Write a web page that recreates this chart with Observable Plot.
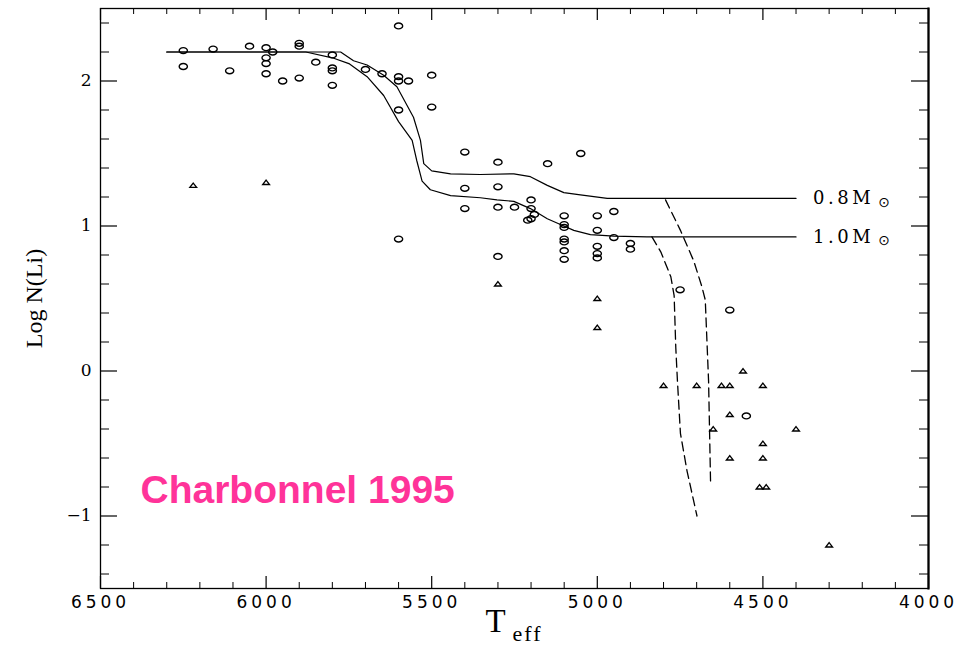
<!DOCTYPE html>
<html>
<head>
<meta charset="utf-8">
<script src="https://cdn.jsdelivr.net/npm/d3@7"></script>
<script src="https://cdn.jsdelivr.net/npm/@observablehq/plot@0.6"></script>
<style>
  body { margin: 0; background: #fff; }
  #chart svg { display: block; }
  g[aria-label="x-axis tick label"] text { letter-spacing: 4px; }
  .track-label text { letter-spacing: 3.5px; }
  .sub-label text { letter-spacing: 2px; }
</style>
</head>
<body>
<div id="chart"></div>
<script>
// Lithium abundance vs effective temperature, with Charbonnel (1995) model tracks

// Stars with measured Li (open circles)
const circleT  = [6250, 6250, 6160, 6110, 6050, 6000, 5980, 6000, 6000, 6000, 5950, 5900, 5900, 5900, 5850,
                  5800, 5800, 5800, 5800, 5600, 5700, 5650, 5600, 5600, 5570, 5500, 5500, 5600, 5600,
                  5400, 5300, 5150, 5050, 5400, 5300, 5400, 5300, 5250, 5200, 5200, 5190, 5210, 5200,
                  5100, 5100, 5100, 5100, 5100, 5100, 5100, 5000, 5000, 5000, 5000, 5000, 4950, 4950,
                  4900, 4900, 5300, 4750, 4600, 4550];
const circleLi = [2.21, 2.10, 2.22, 2.07, 2.24, 2.23, 2.20, 2.16, 2.12, 2.05, 2.00, 2.26, 2.24, 2.02, 2.13,
                  2.18, 2.09, 2.07, 1.97, 2.38, 2.08, 2.05, 2.03, 2.00, 2.00, 2.04, 1.82, 1.80, 0.91,
                  1.51, 1.44, 1.43, 1.50, 1.26, 1.27, 1.12, 1.13, 1.13, 1.18, 1.12, 1.08, 1.04, 1.05,
                  1.07, 1.01, 0.99, 0.91, 0.89, 0.83, 0.77, 1.07, 0.97, 0.86, 0.81, 0.78, 1.10, 0.92,
                  0.88, 0.84, 0.79, 0.56, 0.42, -0.31];

// Upper limits (open triangles)
const triT  = [6220, 6000, 5300, 5000, 5000, 4800, 4700, 4625, 4600, 4500, 4560, 4600, 4650, 4400,
               4500, 4600, 4500, 4510, 4490, 4300];
const triLi = [1.28, 1.30, 0.60, 0.50, 0.30, -0.10, -0.10, -0.10, -0.10, -0.10, 0.00, -0.30, -0.40, -0.40,
               -0.50, -0.60, -0.60, -0.80, -0.80, -1.20];

// Model tracks
const m08T  = [6300, 5775, 5736, 5695, 5645, 5605, 5555, 5534, 5524, 5500, 5443, 5353, 5252, 5202,
               5151, 5101, 5051, 4970, 4900, 4400];
const m08Li = [2.20, 2.20, 2.14, 2.11, 2.04, 1.96, 1.75, 1.59, 1.43, 1.38, 1.36, 1.355, 1.36, 1.34,
               1.28, 1.23, 1.215, 1.19, 1.19, 1.19];
const m10T  = [6300, 5880, 5800, 5750, 5695, 5645, 5600, 5559, 5545, 5529, 5504, 5443, 5353, 5303,
               5252, 5202, 5151, 5101, 5071, 5021, 4950, 4850, 4400];
const m10Li = [2.20, 2.20, 2.16, 2.12, 2.03, 1.90, 1.72, 1.59, 1.45, 1.31, 1.25, 1.21, 1.195, 1.18,
               1.17, 1.12, 1.05, 1.00, 0.97, 0.94, 0.93, 0.925, 0.925];

// Dashed depletion branches
const dashAT  = [4835, 4808, 4778, 4768, 4763, 4758, 4749, 4729, 4699];
const dashALi = [0.925, 0.82, 0.65, 0.52, 0.16, -0.07, -0.43, -0.69, -1.00];
const dashBT  = [4794, 4749, 4709, 4684, 4674, 4664, 4658];
const dashBLi = [1.18, 0.97, 0.76, 0.58, 0.49, -0.07, -0.77];

const trackNames = ["0.8M", "1.0M"];

// Axis ticks
const xMajor = [6500, 6000, 5500, 5000, 4500, 4000];
const xMinor = [6400, 6300, 6200, 6100, 5900, 5800, 5700, 5600, 5400, 5300, 5200, 5100,
                4900, 4800, 4700, 4600, 4400, 4300, 4200, 4100];
const yMajor = [-1, 0, 1, 2];
const yMinor = [-1.4, -1.2, -0.8, -0.6, -0.4, -0.2, 0.2, 0.4, 0.6, 0.8, 1.2, 1.4, 1.6, 1.8, 2.2, 2.4];

const zip = (xs, ys) => xs.map((T, i) => ({T, Li: ys[i]}));
const circles = zip(circleT, circleLi);
const triangles = zip(triT, triLi);
const track08 = zip(m08T, m08Li);
const track10 = zip(m10T, m10Li);
const dashA = zip(dashAT, dashALi);
const dashB = zip(dashBT, dashBLi);
const trackEnds = [track08, track10].map((t, i) => ({...t[t.length - 1], name: trackNames[i]}));

// Flattened open symbols
const ellipse = {
  draw(ctx, size) {
    const rx = Math.sqrt(size / Math.PI), ry = rx * 0.72, k = 0.5523;
    ctx.moveTo(rx, 0);
    ctx.bezierCurveTo(rx, ry * k, rx * k, ry, 0, ry);
    ctx.bezierCurveTo(-rx * k, ry, -rx, ry * k, -rx, 0);
    ctx.bezierCurveTo(-rx, -ry * k, -rx * k, -ry, 0, -ry);
    ctx.bezierCurveTo(rx * k, -ry, rx, -ry * k, rx, 0);
    ctx.closePath();
  }
};
const triangle = {
  draw(ctx, size) {
    const s = Math.sqrt(size / Math.PI);
    ctx.moveTo(0, -s * 0.65);
    ctx.lineTo(s * 0.95, s * 0.55);
    ctx.lineTo(-s * 0.95, s * 0.55);
    ctx.closePath();
  }
};

const W = 965, H = 646;
const mT = 8, mR = 37, mB = 58, mL = 100;
const innerW = W - mL - mR, innerH = H - mT - mB;
const xTickMajor = 12, xTickMinor = 6, yTickMajor = 17, yTickMinor = 9;

const serif = "Liberation Serif";

const chart = Plot.plot({
  width: W, height: H,
  marginTop: mT, marginRight: mR, marginBottom: mB, marginLeft: mL,
  x: {domain: [6500, 4000]},
  y: {domain: [-1.5, 2.5]},
  style: {background: "#fff", color: "#000", overflow: "visible"},
  marks: [
    // inward ticks on all four sides
    Plot.ruleX(xMajor, {insetTop: innerH - xTickMajor, strokeWidth: 1.2}),
    Plot.ruleX(xMajor, {insetBottom: innerH - xTickMajor, strokeWidth: 1.2}),
    Plot.ruleX(xMinor, {insetTop: innerH - xTickMinor, strokeWidth: 1}),
    Plot.ruleX(xMinor, {insetBottom: innerH - xTickMinor, strokeWidth: 1}),
    Plot.ruleY(yMajor, {insetRight: innerW - yTickMajor, strokeWidth: 1.2}),
    Plot.ruleY(yMajor, {insetLeft: innerW - yTickMajor, strokeWidth: 1.2}),
    Plot.ruleY(yMinor, {insetRight: innerW - yTickMinor, strokeWidth: 1}),
    Plot.ruleY(yMinor, {insetLeft: innerW - yTickMinor, strokeWidth: 1}),
    Plot.frame({stroke: "#000", strokeWidth: 1.3}),
    Plot.frame({anchor: "right", stroke: "#000", strokeWidth: 2.2}),

    Plot.axisX(xMajor, {anchor: "bottom", tickSize: 0, tickPadding: 7, label: null,
      tickFormat: d => String(d), fontSize: 17, fontFamily: "DejaVu Sans"}),
    Plot.axisY(yMajor, {anchor: "left", tickSize: 0, tickPadding: 9, label: null,
      tickFormat: d => d < 0 ? "\u2212" + (-d) : String(d), fontSize: 17, fontFamily: "DejaVu Serif"}),

    // model tracks
    Plot.line(track08, {x: "T", y: "Li", stroke: "#000", strokeWidth: 1.2}),
    Plot.line(track10, {x: "T", y: "Li", stroke: "#000", strokeWidth: 1.2}),
    Plot.line(dashA, {x: "T", y: "Li", stroke: "#000", strokeWidth: 1.3, strokeDasharray: "9,5"}),
    Plot.line(dashB, {x: "T", y: "Li", stroke: "#000", strokeWidth: 1.3, strokeDasharray: "9,5"}),

    // track labels
    Plot.text(trackEnds, {x: "T", y: "Li", text: "name", textAnchor: "start", dx: 17,
      fontSize: 18, fontFamily: "DejaVu Serif", className: "track-label"}),
    Plot.text(trackEnds, {x: "T", y: "Li", text: () => "\u2299", textAnchor: "middle", dx: 88, dy: 4,
      fontSize: 14, fontFamily: "DejaVu Sans"}),

    // observations
    Plot.dot(circles, {x: "T", y: "Li", symbol: ellipse, r: 4.1, stroke: "#000", strokeWidth: 1.4, fill: "none"}),
    Plot.dot(triangles, {x: "T", y: "Li", symbol: triangle, r: 3.6, stroke: "#000", strokeWidth: 1.3, fill: "none"}),

    // axis titles
    Plot.text(["Log N(Li)"], {frameAnchor: "left", textAnchor: "middle", rotate: -90, dx: -66,
      fontSize: 24, fontFamily: serif}),
    Plot.text(["T"], {frameAnchor: "bottom", textAnchor: "start", dx: -29, dy: 43, fontSize: 33, fontFamily: serif}),
    Plot.text(["eff"], {frameAnchor: "bottom", textAnchor: "start", dx: -2, dy: 52, fontSize: 22,
      fontFamily: serif, className: "sub-label"}),

    // attribution
    Plot.text(["Charbonnel 1995"], {frameAnchor: "bottom-left", textAnchor: "start", dx: 40, dy: -86,
      fontSize: 39, fontWeight: "bold", fontFamily: "Liberation Sans", fill: "#ff3399"})
  ]
});

document.getElementById("chart").appendChild(chart);
</script>
</body>
</html>
